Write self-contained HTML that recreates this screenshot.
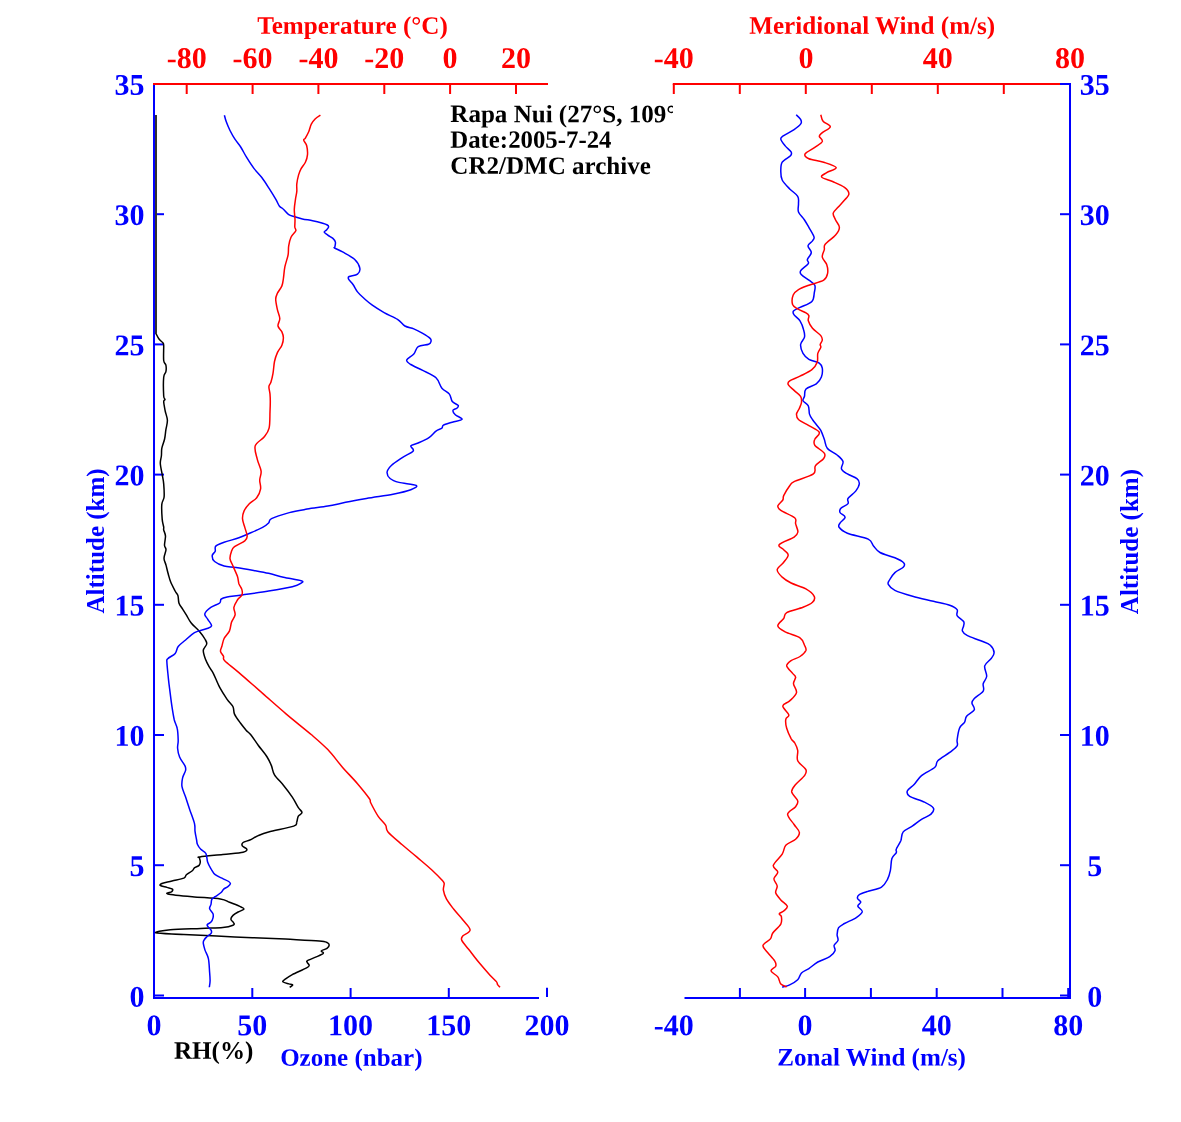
<!DOCTYPE html>
<html><head><meta charset="utf-8"><title>Rapa Nui ozonesonde profile</title>
<style>html,body{margin:0;padding:0;background:#fff}body{width:1181px;height:1122px;overflow:hidden;font-family:"Liberation Serif",serif}svg{display:block;will-change:transform}</style>
</head><body>
<svg width="1181" height="1122" viewBox="0 0 1181 1122">
<rect width="1181" height="1122" fill="#fff"/>
<g font-family="'Liberation Serif', serif" font-weight="bold">
<line x1="154.0" y1="83.0" x2="154.0" y2="999.0" stroke="#0000ff" stroke-width="2"/>
<line x1="154.0" y1="214.2" x2="164.0" y2="214.2" stroke="#0000ff" stroke-width="2"/>
<line x1="154.0" y1="344.4" x2="164.0" y2="344.4" stroke="#0000ff" stroke-width="2"/>
<line x1="154.0" y1="474.6" x2="164.0" y2="474.6" stroke="#0000ff" stroke-width="2"/>
<line x1="154.0" y1="604.8" x2="164.0" y2="604.8" stroke="#0000ff" stroke-width="2"/>
<line x1="154.0" y1="735.0" x2="164.0" y2="735.0" stroke="#0000ff" stroke-width="2"/>
<line x1="154.0" y1="865.2" x2="164.0" y2="865.2" stroke="#0000ff" stroke-width="2"/>
<line x1="154.0" y1="995.5" x2="164.0" y2="995.5" stroke="#0000ff" stroke-width="2"/>
<line x1="153.0" y1="998.0" x2="539.0" y2="998.0" stroke="#0000ff" stroke-width="2"/>
<line x1="252.3" y1="998.0" x2="252.3" y2="988.0" stroke="#0000ff" stroke-width="2"/>
<line x1="350.6" y1="998.0" x2="350.6" y2="988.0" stroke="#0000ff" stroke-width="2"/>
<line x1="448.8" y1="998.0" x2="448.8" y2="988.0" stroke="#0000ff" stroke-width="2"/>
<line x1="547.0" y1="987.8" x2="547.0" y2="997.1" stroke="#0000ff" stroke-width="2"/>
<g fill="none" stroke-width="1.5" stroke-linejoin="round" stroke-linecap="butt">
<path d="M155.9 333.4C156.4 334.3 157.8 337.4 159.0 339.0C160.2 340.6 162.0 341.7 162.8 342.8C163.6 343.9 163.5 342.7 163.7 345.6C163.8 348.6 163.3 357.2 163.7 360.5C164.1 363.8 165.5 363.3 165.9 365.2C166.3 367.1 166.3 369.7 165.9 371.7C165.5 373.7 164.1 373.2 163.7 377.3C163.3 381.4 163.5 392.3 163.7 396.0C163.9 399.7 165.0 398.5 165.0 399.4C165.0 400.3 163.7 399.7 163.7 401.6C163.7 403.5 164.6 407.9 165.2 411.0C165.8 414.1 167.3 417.2 167.4 420.3C167.5 423.4 166.4 426.6 165.9 429.7C165.4 432.8 165.3 435.9 164.6 439.0C163.9 442.1 162.3 445.6 161.8 448.4C161.3 451.2 161.7 453.3 161.4 455.8C161.2 458.3 160.2 460.2 160.3 463.3C160.4 466.4 161.6 471.1 162.2 474.5C162.8 477.9 163.4 480.1 163.7 483.9C164.0 487.6 164.4 493.6 164.1 497.0C163.8 500.4 162.1 500.7 161.8 504.4C161.5 508.1 161.9 515.6 162.2 519.4C162.5 523.1 163.4 525.1 163.7 526.9C163.9 528.7 163.4 528.5 163.7 530.0C164.0 531.5 165.4 533.6 165.5 536.1C165.6 538.6 164.4 542.9 164.5 545.2C164.6 547.5 166.1 547.6 166.0 549.8C165.9 552.0 164.0 555.7 164.0 558.2C164.0 560.8 165.3 562.4 166.0 565.1C166.7 567.8 167.5 571.4 168.3 574.2C169.1 577.0 169.5 579.0 170.6 581.8C171.7 584.6 173.9 588.7 175.1 591.0C176.3 593.3 177.2 593.5 177.9 595.5C178.6 597.5 178.2 600.9 179.0 603.2C179.8 605.5 181.5 607.3 182.8 609.3C184.1 611.3 185.2 613.1 186.6 615.4C188.0 617.7 189.0 620.3 191.2 623.0C193.3 625.7 197.2 628.7 199.5 631.4C201.8 634.1 203.7 636.9 204.9 639.0C206.1 641.1 207.0 642.1 206.7 644.0C206.4 645.9 203.5 647.8 203.3 650.4C203.1 653.0 204.6 656.8 205.6 659.6C206.6 662.4 208.1 664.9 209.4 667.2C210.7 669.5 211.6 669.9 213.3 673.3C215.0 676.7 217.4 683.1 219.7 687.4C222.0 691.7 224.9 696.1 227.1 699.3C229.3 702.5 231.8 704.2 233.0 706.7C234.2 709.2 233.3 711.4 234.5 714.1C235.7 716.8 238.4 720.3 240.4 723.0C242.4 725.7 244.6 728.4 246.3 730.4C248.0 732.4 248.8 732.3 250.8 734.8C252.8 737.3 255.5 741.5 258.2 745.2C260.9 748.9 264.9 753.5 267.1 757.0C269.3 760.5 270.3 762.9 271.5 765.9C272.7 768.9 272.5 771.6 274.5 774.8C276.5 778.0 280.4 781.5 283.4 785.2C286.4 788.9 289.8 793.4 292.3 797.1C294.8 800.8 296.6 804.8 298.2 807.4C299.8 810.0 302.0 811.0 302.0 812.5C302.0 814.0 299.1 814.7 298.2 816.3C297.3 817.9 297.4 820.7 296.7 822.3C295.9 823.9 298.4 824.5 293.7 826.1C289.0 827.7 274.5 830.4 268.6 832.0C262.7 833.6 261.3 834.3 258.2 835.6C255.1 836.9 252.4 838.9 249.9 840.0C247.4 841.1 244.4 841.5 243.1 842.5C241.8 843.5 241.7 844.8 242.3 845.9C242.9 847.0 246.8 848.2 246.9 849.3C247.0 850.3 247.1 851.4 243.1 852.2C239.1 853.1 230.0 853.6 222.8 854.4C215.6 855.2 203.9 856.3 200.0 856.9C196.1 857.5 199.3 856.9 199.4 857.8C199.5 858.6 200.4 860.7 200.3 862.0C200.2 863.3 200.1 864.4 199.1 865.4C198.1 866.4 195.5 867.0 194.4 867.9C193.3 868.8 193.6 869.7 192.3 870.8C191.0 871.9 187.8 873.5 186.4 874.7C185.0 875.9 186.3 877.1 183.9 878.1C181.5 879.1 175.5 880.1 172.0 881.0C168.5 881.9 164.7 882.5 162.7 883.2C160.7 883.9 159.5 884.7 160.2 885.4C160.9 886.1 164.9 886.8 166.9 887.4C168.9 888.0 171.6 888.4 172.4 889.1C173.2 889.8 172.5 890.9 171.7 891.7C170.9 892.5 164.4 893.1 167.8 893.9C171.2 894.7 183.6 895.9 192.3 896.7C201.1 897.5 214.1 898.0 220.3 898.9C226.5 899.8 226.3 901.0 229.6 902.3C232.8 903.5 237.4 905.3 239.8 906.4C242.2 907.5 244.3 908.2 244.0 909.1C243.7 910.0 239.9 911.0 238.1 912.0C236.3 913.0 234.2 914.2 233.0 915.4C231.8 916.6 230.8 918.0 230.9 919.3C231.0 920.6 233.5 922.0 233.8 923.0C234.2 924.0 234.8 924.4 233.0 925.2C231.2 926.0 228.2 927.1 222.8 927.6C217.4 928.1 209.6 928.0 200.8 928.4C192.1 928.8 177.8 929.1 170.3 929.8C162.8 930.5 153.6 932.0 155.9 932.8C158.2 933.6 170.8 933.8 183.9 934.5C197.0 935.2 217.8 936.1 234.7 936.9C251.6 937.7 271.4 938.4 285.5 939.1C299.6 939.8 312.4 940.3 319.3 940.9C326.2 941.5 325.4 941.8 327.0 942.5C328.6 943.2 329.2 944.0 329.2 945.0C329.2 946.0 328.3 947.4 327.0 948.4C325.7 949.4 322.1 950.0 321.4 950.9C320.7 951.8 324.9 952.2 322.7 953.8C320.5 955.3 310.9 958.8 308.3 960.2C305.7 961.6 307.1 961.4 307.2 962.3C307.3 963.1 309.3 964.4 309.2 965.3C309.1 966.2 309.4 966.3 306.6 967.9C303.8 969.5 295.8 972.8 292.3 974.6C288.8 976.4 287.1 977.7 285.5 978.9C283.9 980.1 282.3 981.1 282.9 981.9C283.5 982.7 287.2 983.4 288.9 983.9C290.5 984.4 292.7 984.5 292.8 985.1C292.9 985.7 290.2 986.9 289.7 987.3" stroke="#000000"/>
<path d="M224.4 115.2C224.7 116.3 225.3 119.0 226.2 121.6C227.1 124.1 228.5 127.5 230.0 130.5C231.5 133.5 233.3 136.7 235.1 139.4C236.9 142.2 238.8 144.0 240.7 147.0C242.6 150.0 244.3 153.6 246.5 157.2C248.7 160.8 251.5 165.2 254.1 168.6C256.6 172.0 259.2 174.1 261.8 177.5C264.4 180.9 267.1 185.3 269.4 188.9C271.7 192.5 274.0 196.2 275.7 199.1C277.4 202.0 278.2 204.5 279.5 206.2C280.8 207.9 281.9 207.8 283.4 209.2C284.9 210.5 286.5 213.0 288.4 214.3C290.3 215.6 292.5 216.0 294.8 216.8C297.1 217.6 299.4 218.2 302.4 218.9C305.4 219.6 309.2 220.0 312.6 220.7C316.0 221.4 320.2 222.5 322.7 223.2C325.1 223.9 326.3 224.4 327.3 225.0C328.3 225.6 328.7 226.2 328.6 227.0C328.5 227.8 327.2 229.2 326.5 230.0C325.8 230.8 324.0 231.2 324.2 232.1C324.4 232.9 326.4 234.0 327.8 235.1C329.2 236.2 331.6 237.2 332.9 238.4C334.2 239.6 335.1 240.8 335.4 242.2C335.7 243.6 335.0 245.8 334.9 246.8C334.8 247.8 333.3 247.2 334.6 248.0C335.9 248.8 339.3 250.0 342.6 251.9C345.9 253.8 351.6 256.6 354.5 259.3C357.4 262.0 359.3 265.7 359.8 268.2C360.3 270.7 359.3 272.7 357.5 274.1C355.7 275.5 350.7 275.7 349.2 276.5C347.7 277.3 348.0 277.8 348.6 279.1C349.2 280.4 351.5 282.4 353.0 284.5C354.5 286.6 355.8 289.7 357.5 291.9C359.2 294.1 360.9 295.6 363.4 297.8C365.9 300.0 368.9 302.7 372.3 305.2C375.8 307.7 379.9 310.2 384.1 312.6C388.3 315.0 394.0 317.2 397.5 319.4C401.0 321.6 402.2 324.4 404.9 326.0C407.6 327.6 410.8 327.7 413.8 328.9C416.8 330.1 420.0 331.8 422.7 333.4C425.4 335.0 428.7 337.1 430.1 338.4C431.5 339.7 431.2 340.4 431.0 341.4C430.8 342.4 430.7 343.4 428.6 344.3C426.5 345.2 420.7 345.1 418.2 346.7C415.7 348.3 415.7 351.9 413.8 354.1C411.9 356.3 407.2 358.3 406.7 360.0C406.2 361.7 408.1 362.8 410.8 364.5C413.5 366.2 418.5 368.2 422.7 370.4C426.9 372.6 432.8 374.8 436.0 377.8C439.2 380.8 439.7 385.5 441.9 388.2C444.1 390.9 447.7 391.9 449.4 394.1C451.1 396.3 450.8 399.6 452.3 401.5C453.8 403.4 457.4 404.3 458.2 405.4C458.9 406.5 457.7 407.5 456.8 408.3C455.9 409.1 453.1 409.3 452.9 410.4C452.6 411.5 453.8 413.3 455.3 414.8C456.8 416.3 462.6 418.1 462.1 419.3C461.6 420.5 455.4 421.2 452.3 422.2C449.2 423.2 445.1 424.2 443.4 425.2C441.7 426.2 443.1 427.2 441.9 428.2C440.7 429.2 438.2 429.5 436.0 431.1C433.8 432.7 431.6 435.9 428.6 437.9C425.6 439.9 421.2 441.7 418.2 443.0C415.2 444.3 411.6 444.6 410.8 445.9C410.0 447.2 414.7 449.0 413.2 451.0C411.7 453.0 405.5 455.4 401.9 457.8C398.3 460.2 394.1 462.8 391.6 465.2C389.1 467.6 387.4 469.8 387.1 472.0C386.9 474.2 388.1 476.8 390.1 478.5C392.1 480.2 394.6 481.2 399.0 482.4C403.4 483.5 414.2 484.2 416.2 485.4C418.2 486.6 414.7 488.3 410.8 489.8C406.9 491.3 400.4 492.8 393.0 494.2C385.6 495.6 374.3 497.0 366.4 498.4C358.5 499.8 352.0 501.0 345.6 502.3C339.2 503.6 334.2 505.0 327.8 506.1C321.4 507.2 313.5 508.0 307.1 509.1C300.7 510.2 295.2 511.0 289.3 512.6C283.4 514.2 274.9 516.9 271.5 518.6C268.1 520.3 270.1 521.5 268.6 523.0C267.1 524.5 265.6 525.8 262.6 527.4C259.6 529.0 254.8 531.1 250.8 532.8C246.9 534.5 243.4 536.2 238.9 537.8C234.4 539.4 227.9 540.9 224.1 542.3C220.2 543.7 217.3 544.6 215.8 546.1C214.3 547.6 215.8 549.6 215.2 551.2C214.6 552.8 212.3 553.9 212.2 555.6C212.1 557.3 212.6 559.8 214.6 561.5C216.6 563.2 220.5 565.0 224.1 566.0C227.7 567.0 231.1 566.7 236.0 567.4C240.9 568.1 248.3 569.4 253.7 570.4C259.1 571.4 263.7 572.2 268.6 573.3C273.6 574.4 278.0 576.0 283.4 577.2C288.8 578.4 298.2 579.7 301.2 580.7C304.2 581.7 302.7 582.1 301.2 583.1C299.7 584.1 297.7 585.4 292.3 586.7C286.9 588.0 277.0 589.7 268.6 591.1C260.2 592.5 248.8 594.0 241.9 595.0C235.0 596.0 230.6 596.3 227.1 597.0C223.6 597.7 222.3 598.1 221.1 599.1C219.9 600.1 221.4 601.6 219.7 603.0C218.0 604.4 213.3 605.6 210.8 607.4C208.3 609.2 205.3 611.9 204.8 613.9C204.3 615.9 206.7 617.3 207.8 619.3C208.9 621.3 211.8 624.2 211.6 625.8C211.3 627.4 209.2 627.7 206.3 628.8C203.5 629.9 197.9 630.7 194.5 632.6C191.1 634.5 188.3 637.7 185.6 640.0C182.9 642.3 179.9 644.3 178.2 646.5C176.5 648.7 176.9 651.4 175.2 653.4C173.5 655.4 169.2 657.2 167.8 658.7C166.4 660.2 166.8 659.0 166.9 662.3C167.0 665.6 167.9 673.4 168.4 678.6C168.9 683.8 169.6 688.5 170.2 693.4C170.8 698.3 171.5 703.8 172.2 708.2C172.9 712.6 173.5 716.5 174.3 720.0C175.2 723.5 176.7 725.4 177.3 728.9C178.0 732.4 178.1 737.5 178.2 740.7C178.2 743.9 177.4 745.5 177.6 748.2C177.8 750.9 178.4 754.0 179.6 757.0C180.8 760.0 184.0 763.7 185.0 765.9C186.0 768.1 186.0 768.4 185.6 770.4C185.2 772.4 183.2 775.1 182.6 777.8C182.0 780.5 181.5 783.5 182.0 786.7C182.5 789.9 184.3 793.2 185.6 797.1C186.9 801.0 188.5 806.0 190.0 810.4C191.5 814.8 193.7 820.2 194.5 823.7C195.3 827.2 194.7 828.4 195.0 831.1C195.3 833.8 196.2 837.8 196.6 840.0C197.0 842.2 196.7 842.7 197.4 844.2C198.1 845.8 199.4 847.8 200.8 849.3C202.2 850.8 204.8 851.4 205.9 853.5C207.0 855.6 206.8 859.5 207.6 862.0C208.4 864.5 209.7 866.7 211.0 868.8C212.3 870.9 213.2 873.1 215.2 874.7C217.2 876.3 220.6 877.5 222.8 878.6C225.1 879.7 227.4 880.6 228.7 881.5C230.0 882.4 230.5 882.9 230.4 883.7C230.3 884.6 229.0 885.7 227.9 886.6C226.8 887.5 224.8 888.1 223.7 889.1C222.6 890.1 222.5 891.2 221.1 892.5C219.7 893.8 216.8 895.6 215.2 896.7C213.6 897.8 212.5 898.0 211.8 899.3C211.1 900.6 211.4 902.8 211.0 904.4C210.6 906.0 209.3 907.0 209.6 908.6C209.9 910.2 212.4 912.2 213.0 913.7C213.6 915.2 213.3 916.5 213.0 917.9C212.7 919.3 212.0 921.0 211.0 922.1C210.0 923.2 207.6 923.9 207.2 924.7C206.8 925.6 207.7 926.2 208.4 927.2C209.1 928.2 210.9 929.6 211.3 930.6C211.7 931.6 211.8 932.5 211.0 933.5C210.2 934.5 207.9 935.8 206.7 936.9C205.5 938.0 204.5 939.2 203.9 940.3C203.3 941.4 203.1 941.7 203.3 943.3C203.5 944.9 204.2 947.5 205.0 950.1C205.8 952.7 207.6 954.9 208.4 958.6C209.2 962.3 209.3 968.4 209.6 972.1C209.9 975.8 210.1 978.1 210.1 980.6C210.1 983.1 209.4 986.2 209.3 987.3" stroke="#0000ff"/>
<path d="M320.4 115.2C319.5 115.8 316.6 117.5 315.1 119.0C313.6 120.5 312.4 122.0 311.3 124.1C310.2 126.2 309.7 129.5 308.7 131.8C307.7 134.1 306.2 136.7 305.4 138.1C304.6 139.5 303.5 138.8 303.7 140.1C303.9 141.4 306.1 143.3 306.7 145.7C307.3 148.1 307.7 151.8 307.5 154.6C307.3 157.3 306.5 159.9 305.4 162.2C304.3 164.5 302.2 166.5 301.1 168.6C300.0 170.7 299.3 172.4 298.6 174.9C297.9 177.4 297.1 181.1 296.8 183.8C296.5 186.6 297.0 188.9 296.8 191.4C296.6 193.9 295.9 196.1 295.5 199.1C295.1 202.1 294.4 205.8 294.3 209.2C294.2 212.6 294.9 216.4 295.0 219.4C295.1 222.4 294.7 225.1 294.8 227.0C294.9 228.9 296.4 229.1 295.8 230.8C295.2 232.5 292.2 234.7 291.0 237.2C289.8 239.7 289.2 243.0 288.7 245.9C288.2 248.8 288.7 251.3 288.1 254.8C287.5 258.3 285.7 262.8 284.9 266.7C284.1 270.6 283.9 275.3 283.4 278.5C282.9 281.7 282.9 283.4 281.9 285.9C280.9 288.4 278.4 291.1 277.4 293.3C276.4 295.5 275.7 296.6 275.7 299.3C275.7 302.0 276.7 306.4 277.4 309.6C278.1 312.8 279.7 315.8 279.8 318.5C279.9 321.2 277.6 323.8 278.0 326.0C278.4 328.2 281.0 329.9 281.9 331.9C282.8 333.9 283.4 335.6 283.4 337.8C283.4 340.0 282.9 342.7 281.9 345.2C280.9 347.7 278.6 349.9 277.4 352.6C276.2 355.3 275.2 358.0 274.5 361.5C273.8 365.0 273.6 369.9 273.0 373.4C272.4 376.9 271.6 380.1 270.9 382.3C270.2 384.5 269.0 384.7 268.9 386.7C268.8 388.7 269.8 391.6 270.0 394.1C270.2 396.6 270.3 398.5 270.3 401.5C270.3 404.5 270.2 407.4 270.0 411.9C269.8 416.3 270.1 424.0 269.1 428.2C268.1 432.4 266.4 434.1 264.1 437.0C261.8 439.9 256.3 442.2 255.2 445.9C254.1 449.6 256.3 455.1 257.3 459.3C258.3 463.5 260.7 467.7 261.1 471.1C261.5 474.6 259.8 477.0 259.7 480.0C259.6 483.0 261.1 485.9 260.6 488.9C260.1 491.9 258.6 495.3 256.7 497.8C254.8 500.3 251.4 501.5 249.3 503.7C247.2 505.9 245.1 508.6 244.0 511.1C242.9 513.6 242.4 515.9 242.5 518.6C242.6 521.3 244.0 524.5 244.8 527.4C245.6 530.3 247.2 534.1 247.2 536.3C247.2 538.5 246.9 539.1 244.8 540.8C242.7 542.5 236.7 545.0 234.5 546.7C232.3 548.4 232.2 549.2 231.5 551.2C230.8 553.2 229.8 556.1 230.0 558.6C230.2 561.1 231.8 563.0 233.0 566.0C234.2 569.0 236.4 573.3 237.4 576.3C238.4 579.2 238.2 581.5 238.9 583.7C239.7 585.9 241.4 587.7 241.9 589.6C242.4 591.5 242.7 593.3 241.9 595.0C241.2 596.7 238.7 597.9 237.4 600.0C236.1 602.1 234.3 604.9 233.9 607.4C233.5 609.9 235.5 612.3 235.1 614.8C234.7 617.3 232.4 619.5 231.5 622.2C230.6 624.9 230.6 628.4 229.4 631.1C228.2 633.8 225.3 636.0 224.1 638.5C222.9 641.0 222.6 643.8 222.0 645.9C221.4 648.0 220.2 649.6 220.5 651.3C220.8 653.0 222.8 654.7 223.5 656.3C224.2 657.9 222.1 658.1 224.7 660.8C227.3 663.5 232.6 667.2 238.9 672.6C245.2 678.0 254.7 686.5 262.6 693.4C270.5 700.3 278.2 707.2 286.3 714.1C294.4 721.0 304.6 728.9 311.5 734.8C318.4 740.7 322.6 744.2 327.8 749.6C333.0 755.0 337.7 761.7 342.6 767.4C347.6 773.1 353.1 778.5 357.5 783.7C361.9 788.9 367.1 795.3 369.3 798.5C371.5 801.7 369.3 800.0 370.8 803.0C372.3 806.0 375.7 812.6 378.2 816.3C380.7 820.0 384.0 822.6 385.6 825.2C387.2 827.8 385.3 828.8 388.0 832.0C390.7 835.2 397.1 840.4 401.9 844.5C406.7 848.6 411.8 852.7 416.7 856.9C421.6 861.1 427.4 865.9 431.6 869.7C435.8 873.6 439.8 877.7 441.9 880.0C444.0 882.3 443.9 881.8 444.2 883.5C444.4 885.2 443.0 887.6 443.4 890.2C443.8 892.8 444.7 895.7 446.4 898.9C448.1 902.1 451.1 905.8 453.8 909.3C456.5 912.8 460.0 916.2 462.7 919.7C465.4 923.2 470.1 927.3 470.1 930.0C470.1 932.7 464.1 934.3 462.7 936.0C461.3 937.7 460.8 938.2 461.8 940.4C462.8 942.6 465.7 945.6 468.6 949.3C471.5 953.0 475.4 958.3 479.0 962.6C482.6 966.9 487.1 972.0 490.0 975.2C492.9 978.4 495.1 980.0 496.4 981.6C497.7 983.2 497.0 983.7 497.6 984.6C498.2 985.5 499.6 986.8 500.0 987.3" stroke="#ff0000"/>
<path d="M796.2 114.8C796.9 115.5 799.8 117.8 800.6 119.3C801.4 120.8 802.0 122.0 800.9 123.7C799.8 125.4 797.0 127.6 794.1 129.6C791.2 131.6 785.9 134.0 783.7 135.6C781.5 137.2 780.5 137.4 780.8 139.1C781.0 140.8 783.5 143.8 785.2 145.9C786.9 148.0 790.2 150.3 791.1 151.9C792.0 153.5 792.0 154.0 790.5 155.7C789.0 157.4 783.8 159.6 782.2 162.2C780.6 164.8 780.8 168.1 780.8 171.1C780.8 174.1 780.7 177.0 782.2 180.0C783.7 183.0 787.1 186.2 789.7 188.9C792.3 191.6 796.2 193.8 797.7 196.3C799.2 198.8 798.4 201.1 798.5 203.7C798.6 206.3 797.5 209.3 798.5 212.0C799.5 214.7 802.8 217.4 804.5 220.0C806.2 222.6 807.3 224.6 808.9 227.4C810.5 230.2 813.4 234.7 814.0 236.9C814.6 239.1 813.5 239.3 812.5 240.8C811.5 242.3 808.2 243.8 808.0 245.8C807.8 247.8 811.4 250.3 811.3 252.6C811.2 254.9 807.9 257.7 807.4 259.5C806.9 261.3 809.4 261.7 808.3 263.6C807.2 265.5 801.7 268.9 800.6 270.8C799.5 272.7 800.1 273.2 801.5 274.8C802.9 276.4 806.7 278.5 808.9 280.2C811.1 281.9 813.9 283.1 814.8 285.2C815.7 287.3 814.8 289.9 814.3 292.6C813.8 295.3 814.3 299.0 811.9 301.5C809.5 304.0 803.1 305.8 800.0 307.4C796.9 309.0 794.5 309.8 793.5 311.0C792.5 312.2 793.0 313.2 794.1 314.8C795.2 316.4 798.4 318.3 800.0 320.8C801.6 323.3 802.9 327.0 803.6 329.7C804.4 332.4 805.0 334.6 804.5 337.1C804.0 339.6 800.9 341.8 800.6 344.5C800.4 347.2 801.6 350.9 803.0 353.4C804.4 355.9 806.2 357.7 808.9 359.3C811.6 360.9 817.1 361.6 819.3 363.1C821.5 364.6 821.9 365.9 822.3 368.2C822.6 370.5 822.4 374.5 821.4 377.1C820.4 379.7 818.9 381.9 816.3 383.9C813.7 385.9 808.0 386.8 806.0 388.9C804.0 391.0 805.0 394.3 804.5 396.3C804.0 398.3 802.4 399.2 803.0 400.8C803.6 402.4 807.2 403.6 808.3 405.8C809.4 408.0 808.8 411.7 809.5 414.1C810.2 416.5 811.7 418.3 812.8 420.0C813.9 421.7 815.0 422.8 816.3 424.5C817.6 426.2 819.5 427.9 820.8 430.4C822.1 432.9 823.2 436.3 824.3 439.3C825.4 442.3 825.2 445.6 827.3 448.2C829.4 450.8 834.5 452.8 837.1 455.0C839.7 457.2 842.3 459.2 843.0 461.5C843.7 463.8 840.8 466.8 841.5 468.9C842.2 471.0 844.8 472.3 847.4 473.9C850.0 475.5 854.9 477.1 856.9 478.7C858.9 480.3 859.5 481.6 859.3 483.7C859.1 485.8 857.6 488.6 855.7 491.1C853.8 493.6 849.3 496.4 848.0 498.5C846.7 500.6 849.2 502.0 848.0 503.6C846.8 505.2 842.2 506.8 840.9 508.3C839.6 509.8 839.3 511.0 840.0 512.5C840.7 514.0 845.1 515.4 845.1 517.2C845.1 519.0 841.0 521.4 840.0 523.1C839.0 524.8 837.9 525.6 839.1 527.3C840.3 529.0 842.5 531.2 847.4 533.2C852.2 535.2 863.9 537.0 868.2 539.1C872.6 541.2 871.5 543.8 873.5 546.0C875.5 548.2 876.4 550.5 880.0 552.5C883.6 554.5 890.9 556.1 894.9 557.8C898.9 559.5 902.4 561.3 903.8 562.9C905.2 564.5 904.7 565.7 903.2 567.3C901.7 568.9 897.2 570.5 894.9 572.6C892.6 574.7 890.6 578.0 889.5 580.0C888.4 582.0 887.4 582.7 888.3 584.4C889.2 586.1 890.8 588.4 894.9 590.4C899.0 592.4 906.2 594.5 912.6 596.3C919.0 598.1 927.2 599.8 933.4 601.3C939.6 602.8 945.8 603.8 949.7 605.2C953.7 606.6 955.9 607.9 957.1 609.6C958.3 611.3 956.0 613.6 957.1 615.6C958.2 617.6 962.5 619.8 963.6 621.5C964.7 623.2 963.8 624.3 963.6 625.9C963.4 627.5 961.8 629.4 962.4 631.0C963.0 632.6 964.4 634.1 967.5 635.7C970.6 637.3 977.0 639.2 980.8 640.8C984.6 642.4 988.1 643.2 990.3 645.2C992.5 647.2 994.0 650.4 994.1 652.6C994.2 654.8 992.8 656.3 991.2 658.5C989.6 660.7 985.5 662.9 984.7 665.9C984.0 668.9 987.0 673.3 986.7 676.3C986.5 679.3 983.8 681.2 983.2 683.7C982.6 686.2 984.7 688.6 983.2 691.1C981.7 693.6 976.2 696.5 974.3 698.5C972.4 700.5 971.9 701.1 971.9 703.0C971.9 704.9 975.2 707.6 974.3 709.8C973.4 712.0 968.2 714.2 966.6 716.3C965.0 718.4 965.7 720.3 964.5 722.3C963.3 724.3 960.7 725.2 959.5 728.2C958.3 731.2 957.5 737.0 957.1 740.0C956.7 743.0 958.3 743.8 957.1 745.9C955.9 748.0 952.9 749.9 949.7 752.4C946.5 754.9 940.3 758.2 937.8 760.7C935.3 763.2 937.6 764.8 934.9 767.3C932.2 769.8 925.0 772.7 921.5 775.6C918.0 778.5 916.5 781.9 914.1 784.5C911.7 787.1 908.0 789.0 907.3 791.0C906.6 793.0 906.8 794.4 909.7 796.3C912.6 798.2 920.5 800.2 924.5 802.2C928.5 804.2 932.3 806.2 933.4 808.2C934.5 810.2 933.0 812.2 931.0 814.1C929.0 816.0 924.6 817.4 921.5 819.4C918.4 821.4 915.6 823.8 912.6 825.9C909.6 828.0 905.2 829.4 903.2 831.9C901.2 834.4 901.9 837.9 900.8 840.8C899.6 843.7 897.0 847.1 896.3 849.1C895.5 851.1 897.0 851.0 896.3 852.6C895.6 854.2 892.9 855.6 891.9 858.6C890.9 861.6 891.1 867.0 890.4 870.4C889.7 873.8 889.0 876.5 887.5 879.3C886.0 882.1 884.7 885.1 881.5 887.1C878.3 889.1 871.9 890.0 868.2 891.3C864.5 892.5 861.1 893.4 859.3 894.6C857.5 895.8 857.2 897.1 857.5 898.4C857.8 899.6 860.8 900.8 860.8 902.1C860.8 903.4 857.5 904.5 857.8 906.1C858.0 907.7 862.5 909.8 862.3 911.7C862.0 913.6 859.3 915.6 856.3 917.6C853.3 919.6 847.5 921.8 844.5 923.5C841.5 925.2 839.8 925.9 838.6 927.7C837.4 929.5 837.2 932.4 837.1 934.5C837.0 936.6 838.5 938.6 838.0 940.4C837.5 942.2 834.6 943.7 834.1 945.4C833.6 947.1 835.7 948.9 835.0 950.8C834.3 952.7 832.6 954.8 829.7 956.7C826.8 958.6 821.3 960.0 817.8 962.0C814.3 964.0 811.6 966.8 808.9 968.6C806.2 970.4 803.4 971.1 801.5 973.0C799.6 974.9 799.7 977.8 797.7 979.8C795.7 981.8 792.3 983.7 789.7 984.9C787.1 986.1 783.5 986.8 782.2 987.2" stroke="#0000ff"/>
<path d="M820.8 114.8C821.2 115.9 821.5 119.3 823.1 121.3C824.7 123.3 830.4 124.8 830.3 126.7C830.2 128.6 824.1 131.0 822.3 132.6C820.5 134.2 819.3 134.7 819.3 136.2C819.3 137.7 823.0 139.6 822.3 141.5C821.5 143.4 817.7 145.3 814.8 147.4C811.9 149.5 806.1 152.0 805.1 153.9C804.1 155.8 805.8 157.3 808.9 158.7C812.0 160.1 819.2 160.7 823.7 162.2C828.2 163.7 835.7 165.9 836.2 167.6C836.7 169.3 829.1 171.0 826.7 172.6C824.3 174.2 820.7 175.6 821.7 177.1C822.7 178.6 828.8 179.8 832.6 181.5C836.4 183.2 841.8 185.3 844.5 187.4C847.2 189.5 849.0 191.8 848.9 194.0C848.8 196.2 845.7 198.6 843.9 200.8C842.1 203.0 839.8 205.2 838.0 207.3C836.2 209.4 833.6 211.1 833.2 213.2C832.8 215.3 834.6 217.6 835.6 220.0C836.6 222.4 839.4 224.9 839.4 227.4C839.4 229.9 838.0 232.1 835.6 234.9C833.2 237.7 827.1 241.8 825.2 244.3C823.3 246.8 824.8 247.6 824.3 249.7C823.8 251.8 821.9 254.6 822.3 257.1C822.7 259.6 825.8 261.8 826.7 264.5C827.6 267.2 828.1 270.7 827.6 273.3C827.1 275.9 826.8 278.2 823.7 280.2C820.6 282.2 813.1 283.6 808.9 285.2C804.7 286.8 801.1 288.0 798.5 289.6C795.9 291.2 794.2 292.5 793.2 295.0C792.2 297.5 791.9 302.2 792.6 304.5C793.4 306.8 795.5 307.5 797.7 308.9C799.9 310.3 804.1 311.7 806.0 312.8C807.9 313.9 808.5 314.4 808.9 315.7C809.3 317.0 807.7 318.7 808.3 320.8C808.9 322.9 810.4 325.7 812.5 328.2C814.6 330.7 819.2 333.6 820.8 335.6C822.4 337.6 822.4 338.5 822.3 340.0C822.2 341.5 820.5 343.3 820.2 344.5C820.0 345.7 821.2 345.9 820.8 347.4C820.4 348.9 818.4 350.9 817.8 353.4C817.2 355.9 818.2 359.6 817.2 362.3C816.2 365.0 814.8 367.4 811.9 369.7C809.0 372.0 803.7 374.3 800.0 376.2C796.3 378.1 791.7 379.5 789.7 380.9C787.7 382.3 787.5 382.9 788.2 384.5C788.9 386.1 792.0 388.4 794.1 390.4C796.2 392.4 799.4 394.3 800.6 396.3C801.8 398.3 801.7 400.3 801.5 402.3C801.3 404.3 800.2 406.2 799.4 408.2C798.6 410.2 796.6 412.2 796.5 414.1C796.4 416.0 796.4 417.6 798.5 419.5C800.6 421.4 805.4 423.5 808.9 425.6C812.4 427.8 818.3 430.1 819.3 432.4C820.3 434.7 815.5 437.2 814.8 439.3C814.0 441.4 813.2 442.9 814.8 445.2C816.4 447.5 822.8 451.0 824.3 453.2C825.8 455.4 825.2 456.4 823.7 458.5C822.2 460.6 817.1 463.3 815.4 465.9C813.7 468.5 816.9 471.3 813.4 473.9C809.9 476.5 798.0 479.6 794.1 481.6C790.2 483.6 791.4 483.5 789.7 485.8C788.0 488.1 784.9 493.2 783.7 495.6C782.6 498.0 783.8 498.3 782.8 500.0C781.8 501.7 778.1 504.2 777.8 505.9C777.5 507.6 778.0 508.4 780.8 510.4C783.6 512.4 792.2 515.6 794.7 517.8C797.2 520.0 795.1 521.3 795.6 523.7C796.1 526.1 798.1 529.8 797.9 532.0C797.6 534.2 797.2 535.0 794.1 537.1C791.0 539.2 781.0 542.4 779.3 544.5C777.6 546.6 782.2 548.1 783.7 549.8C785.2 551.5 788.2 552.8 788.2 554.9C788.2 557.0 785.5 559.8 783.7 562.3C781.9 564.8 777.5 567.2 777.2 569.7C777.0 572.2 779.9 574.9 782.2 577.1C784.5 579.3 787.2 581.0 791.1 583.0C795.0 585.0 802.0 586.7 805.9 588.9C809.8 591.1 813.1 594.1 814.2 596.3C815.3 598.5 814.4 600.4 812.5 602.2C810.6 604.0 807.3 605.6 803.0 607.3C798.7 609.0 789.9 610.7 786.7 612.6C783.5 614.5 785.2 616.3 783.7 618.5C782.2 620.7 777.5 623.7 777.8 625.9C778.0 628.1 781.5 629.9 785.2 631.9C788.9 633.9 796.8 635.6 800.0 637.8C803.2 640.0 803.5 643.1 804.5 645.2C805.5 647.3 806.6 648.6 805.9 650.5C805.1 652.4 802.5 654.8 800.0 656.5C797.5 658.2 793.3 659.0 791.1 660.6C788.9 662.2 786.5 663.8 786.7 665.9C787.0 668.0 791.1 671.5 792.6 673.4C794.1 675.3 795.5 675.5 795.6 677.2C795.8 678.9 793.4 681.1 793.5 683.7C793.6 686.3 797.1 689.7 796.5 692.6C795.9 695.5 792.0 698.7 789.7 700.9C787.4 703.1 782.9 703.7 782.8 706.0C782.6 708.3 788.3 712.7 788.8 714.9C789.3 717.1 786.1 717.1 785.8 719.3C785.4 721.5 785.8 725.0 786.7 728.2C787.6 731.4 789.8 736.1 791.1 738.6C792.5 741.1 793.7 741.0 794.8 743.0C795.9 745.0 797.2 747.4 797.7 750.4C798.2 753.4 796.3 757.5 797.7 760.7C799.1 763.9 804.8 767.1 805.9 769.6C807.0 772.1 806.2 773.1 804.5 775.6C802.8 778.1 797.7 781.8 795.6 784.5C793.5 787.2 791.4 789.2 791.7 791.9C792.1 794.6 797.1 798.3 797.7 800.8C798.4 803.3 797.3 804.5 795.6 806.7C793.9 808.9 787.9 811.1 787.6 814.1C787.4 817.1 792.1 821.4 794.1 824.5C796.1 827.6 799.1 830.0 799.4 832.5C799.6 835.0 797.9 837.2 795.6 839.3C793.3 841.4 788.0 842.7 785.8 845.2C783.6 847.7 784.3 850.7 782.2 854.1C780.1 857.5 774.0 862.4 773.3 865.4C772.6 868.4 777.7 869.8 777.8 872.0C777.9 874.2 774.0 876.5 773.9 878.8C773.8 881.1 776.9 883.7 777.2 886.0C777.5 888.3 775.1 890.5 775.7 892.8C776.3 895.1 778.9 897.7 780.8 899.9C782.7 902.1 786.8 904.2 787.3 906.1C787.8 908.0 785.0 909.7 783.7 911.0C782.4 912.3 779.7 912.8 779.3 913.7C778.9 914.7 781.1 915.0 781.4 916.7C781.6 918.4 782.2 921.4 780.8 924.1C779.4 926.8 774.5 930.5 772.8 933.0C771.1 935.5 772.0 936.8 770.4 938.9C768.8 941.0 763.5 943.2 763.0 945.4C762.5 947.6 765.4 949.7 767.4 952.3C769.4 954.9 773.4 958.8 774.8 961.1C776.2 963.4 776.3 964.6 775.7 966.2C775.1 967.8 770.6 969.1 771.0 970.9C771.4 972.7 776.2 974.7 777.8 976.9C779.4 979.1 779.3 982.3 780.8 984.0C782.3 985.7 785.7 986.4 786.7 986.9" stroke="#ff0000"/>
</g>
<line x1="156.0" y1="115.0" x2="156.0" y2="334.0" stroke="#333330" stroke-width="2"/>
<line x1="153.0" y1="84.0" x2="548.0" y2="84.0" stroke="#ff0000" stroke-width="2"/>
<line x1="186.7" y1="84.0" x2="186.7" y2="94.0" stroke="#ff0000" stroke-width="2"/>
<line x1="252.6" y1="84.0" x2="252.6" y2="94.0" stroke="#ff0000" stroke-width="2"/>
<line x1="318.4" y1="84.0" x2="318.4" y2="94.0" stroke="#ff0000" stroke-width="2"/>
<line x1="384.3" y1="84.0" x2="384.3" y2="94.0" stroke="#ff0000" stroke-width="2"/>
<line x1="450.1" y1="84.0" x2="450.1" y2="94.0" stroke="#ff0000" stroke-width="2"/>
<line x1="516.0" y1="84.0" x2="516.0" y2="94.0" stroke="#ff0000" stroke-width="2"/>
<line x1="672.8" y1="84.0" x2="1070.0" y2="84.0" stroke="#ff0000" stroke-width="2"/>
<line x1="673.8" y1="84.0" x2="673.8" y2="94.0" stroke="#ff0000" stroke-width="2"/>
<line x1="739.8" y1="84.0" x2="739.8" y2="94.0" stroke="#ff0000" stroke-width="2"/>
<line x1="805.8" y1="84.0" x2="805.8" y2="94.0" stroke="#ff0000" stroke-width="2"/>
<line x1="871.8" y1="84.0" x2="871.8" y2="94.0" stroke="#ff0000" stroke-width="2"/>
<line x1="937.8" y1="84.0" x2="937.8" y2="94.0" stroke="#ff0000" stroke-width="2"/>
<line x1="1003.8" y1="84.0" x2="1003.8" y2="94.0" stroke="#ff0000" stroke-width="2"/>
<line x1="1070.0" y1="83.0" x2="1070.0" y2="999.0" stroke="#0000ff" stroke-width="2"/>
<line x1="1060.0" y1="84.0" x2="1070.0" y2="84.0" stroke="#0000ff" stroke-width="2"/>
<line x1="1060.0" y1="214.2" x2="1070.0" y2="214.2" stroke="#0000ff" stroke-width="2"/>
<line x1="1060.0" y1="344.4" x2="1070.0" y2="344.4" stroke="#0000ff" stroke-width="2"/>
<line x1="1060.0" y1="474.6" x2="1070.0" y2="474.6" stroke="#0000ff" stroke-width="2"/>
<line x1="1060.0" y1="604.8" x2="1070.0" y2="604.8" stroke="#0000ff" stroke-width="2"/>
<line x1="1060.0" y1="735.0" x2="1070.0" y2="735.0" stroke="#0000ff" stroke-width="2"/>
<line x1="1060.0" y1="865.2" x2="1070.0" y2="865.2" stroke="#0000ff" stroke-width="2"/>
<line x1="1060.0" y1="995.5" x2="1070.0" y2="995.5" stroke="#0000ff" stroke-width="2"/>
<line x1="684.5" y1="998.0" x2="1071.0" y2="998.0" stroke="#0000ff" stroke-width="2"/>
<line x1="739.9" y1="998.0" x2="739.9" y2="988.0" stroke="#0000ff" stroke-width="2"/>
<line x1="805.1" y1="998.0" x2="805.1" y2="988.0" stroke="#0000ff" stroke-width="2"/>
<line x1="870.9" y1="998.0" x2="870.9" y2="988.0" stroke="#0000ff" stroke-width="2"/>
<line x1="936.7" y1="998.0" x2="936.7" y2="988.0" stroke="#0000ff" stroke-width="2"/>
<line x1="1002.5" y1="998.0" x2="1002.5" y2="988.0" stroke="#0000ff" stroke-width="2"/>
<line x1="1068.2" y1="998.0" x2="1068.2" y2="988.0" stroke="#0000ff" stroke-width="2"/>
<text transform="translate(186.7 68.1) rotate(0.05) scale(1.0 1.0)" fill="#ff0000" font-size="30" text-anchor="middle">-80</text>
<text transform="translate(252.6 68.1) rotate(0.05) scale(1.0 1.0)" fill="#ff0000" font-size="30" text-anchor="middle">-60</text>
<text transform="translate(318.4 68.1) rotate(0.05) scale(1.0 1.0)" fill="#ff0000" font-size="30" text-anchor="middle">-40</text>
<text transform="translate(384.3 68.1) rotate(0.05) scale(1.0 1.0)" fill="#ff0000" font-size="30" text-anchor="middle">-20</text>
<text transform="translate(450.1 68.1) rotate(0.05) scale(1.0 1.0)" fill="#ff0000" font-size="30" text-anchor="middle">0</text>
<text transform="translate(516.0 68.1) rotate(0.05) scale(1.0 1.0)" fill="#ff0000" font-size="30" text-anchor="middle">20</text>
<text transform="translate(673.8 68.1) rotate(0.05) scale(1.0 1.0)" fill="#ff0000" font-size="30" text-anchor="middle">-40</text>
<text transform="translate(805.9 68.1) rotate(0.05) scale(1.0 1.0)" fill="#ff0000" font-size="30" text-anchor="middle">0</text>
<text transform="translate(937.8 68.1) rotate(0.05) scale(1.0 1.0)" fill="#ff0000" font-size="30" text-anchor="middle">40</text>
<text transform="translate(1070.0 68.1) rotate(0.05) scale(1.0 1.0)" fill="#ff0000" font-size="30" text-anchor="middle">80</text>
<text transform="translate(352.5 33.8) rotate(0.05)" fill="#ff0000" font-size="25.1" text-anchor="middle">Temperature (°C)</text>
<text transform="translate(872.2 33.8) rotate(0.05)" fill="#ff0000" font-size="25.1" text-anchor="middle">Meridional Wind (m/s)</text>
<text transform="translate(144.4 94.8) rotate(0.05) scale(1.0 1.0)" fill="#0000ff" font-size="30" text-anchor="end">35</text>
<text transform="translate(144.4 225.0) rotate(0.05) scale(1.0 1.0)" fill="#0000ff" font-size="30" text-anchor="end">30</text>
<text transform="translate(144.4 355.2) rotate(0.05) scale(1.0 1.0)" fill="#0000ff" font-size="30" text-anchor="end">25</text>
<text transform="translate(144.4 485.4) rotate(0.05) scale(1.0 1.0)" fill="#0000ff" font-size="30" text-anchor="end">20</text>
<text transform="translate(144.4 615.6) rotate(0.05) scale(1.0 1.0)" fill="#0000ff" font-size="30" text-anchor="end">15</text>
<text transform="translate(144.4 745.8) rotate(0.05) scale(1.0 1.0)" fill="#0000ff" font-size="30" text-anchor="end">10</text>
<text transform="translate(144.4 876.0) rotate(0.05) scale(1.0 1.0)" fill="#0000ff" font-size="30" text-anchor="end">5</text>
<text transform="translate(144.4 1006.7) rotate(0.05) scale(1.0 1.0)" fill="#0000ff" font-size="30" text-anchor="end">0</text>
<text transform="translate(1094.8 94.8) rotate(0.05) scale(1.0 1.0)" fill="#0000ff" font-size="30" text-anchor="middle">35</text>
<text transform="translate(1094.8 225.0) rotate(0.05) scale(1.0 1.0)" fill="#0000ff" font-size="30" text-anchor="middle">30</text>
<text transform="translate(1094.8 355.2) rotate(0.05) scale(1.0 1.0)" fill="#0000ff" font-size="30" text-anchor="middle">25</text>
<text transform="translate(1094.8 485.4) rotate(0.05) scale(1.0 1.0)" fill="#0000ff" font-size="30" text-anchor="middle">20</text>
<text transform="translate(1094.8 615.6) rotate(0.05) scale(1.0 1.0)" fill="#0000ff" font-size="30" text-anchor="middle">15</text>
<text transform="translate(1094.8 745.8) rotate(0.05) scale(1.0 1.0)" fill="#0000ff" font-size="30" text-anchor="middle">10</text>
<text transform="translate(1094.8 876.0) rotate(0.05) scale(1.0 1.0)" fill="#0000ff" font-size="30" text-anchor="middle">5</text>
<text transform="translate(1094.8 1006.7) rotate(0.05) scale(1.0 1.0)" fill="#0000ff" font-size="30" text-anchor="middle">0</text>
<text transform="translate(154.0 1035.2) rotate(0.05) scale(1.0 1.0)" fill="#0000ff" font-size="30" text-anchor="middle">0</text>
<text transform="translate(252.3 1035.2) rotate(0.05) scale(1.0 1.0)" fill="#0000ff" font-size="30" text-anchor="middle">50</text>
<text transform="translate(350.6 1035.2) rotate(0.05) scale(1.0 1.0)" fill="#0000ff" font-size="30" text-anchor="middle">100</text>
<text transform="translate(448.8 1035.2) rotate(0.05) scale(1.0 1.0)" fill="#0000ff" font-size="30" text-anchor="middle">150</text>
<text transform="translate(547.0 1035.2) rotate(0.05) scale(1.0 1.0)" fill="#0000ff" font-size="30" text-anchor="middle">200</text>
<text transform="translate(673.8 1035.2) rotate(0.05) scale(1.0 1.0)" fill="#0000ff" font-size="30" text-anchor="middle">-40</text>
<text transform="translate(805.1 1035.2) rotate(0.05) scale(1.0 1.0)" fill="#0000ff" font-size="30" text-anchor="middle">0</text>
<text transform="translate(936.7 1035.2) rotate(0.05) scale(1.0 1.0)" fill="#0000ff" font-size="30" text-anchor="middle">40</text>
<text transform="translate(1068.3 1035.2) rotate(0.05) scale(1.0 1.0)" fill="#0000ff" font-size="30" text-anchor="middle">80</text>
<text transform="translate(213.6 1058.8) rotate(0.05)" fill="#000000" font-size="25.1" text-anchor="middle">RH(%)</text>
<text transform="translate(351.3 1065.7) rotate(0.05)" fill="#0000ff" font-size="25.0" text-anchor="middle">Ozone (nbar)</text>
<text transform="translate(871.6 1065.5) rotate(0.05)" fill="#0000ff" font-size="25.1" text-anchor="middle">Zonal Wind (m/s)</text>
<text x="0.0" y="0.0" fill="#0000ff" font-size="25.0" text-anchor="middle" transform="translate(103.9,540.9) rotate(-90)">Altitude (km)</text>
<text x="0.0" y="0.0" fill="#0000ff" font-size="25.0" text-anchor="middle" transform="translate(1138.3,541.6) rotate(-90)">Altitude (km)</text>
<clipPath id="c"><rect x="440" y="90" width="233.0" height="100"/></clipPath>
<g clip-path="url(#c)">
<text transform="translate(450.3 122.1) rotate(0.05)" fill="#000000" font-size="25.05" text-anchor="start">Rapa Nui (27°S, 109°W)</text>
<text transform="translate(450.3 147.7) rotate(0.05)" fill="#000000" font-size="24.8" text-anchor="start">Date:2005-7-24</text>
<text transform="translate(450.3 173.8) rotate(0.05)" fill="#000000" font-size="25.05" text-anchor="start">CR2/DMC archive</text>
</g>
</g></svg>
</body></html>
